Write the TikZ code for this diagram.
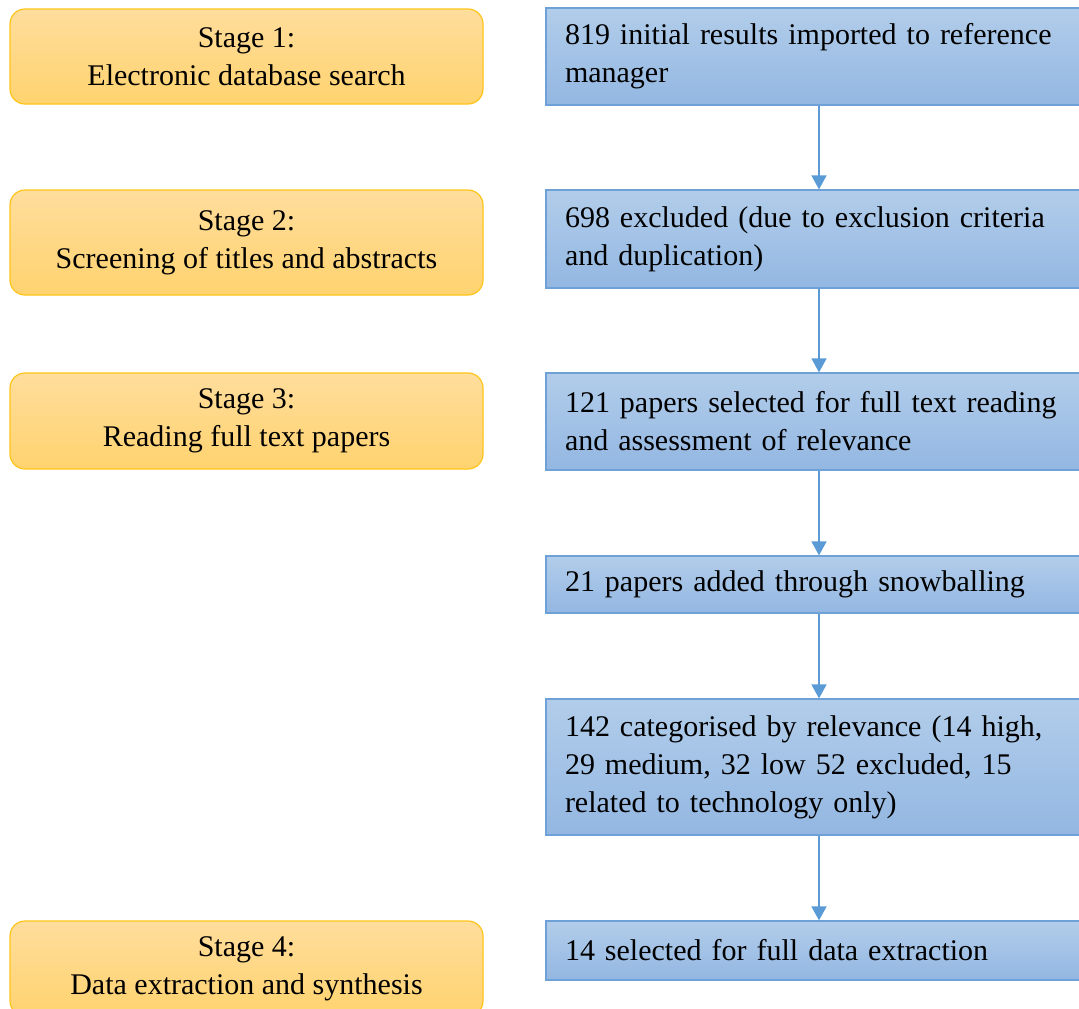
\documentclass[tikz,border=0pt]{standalone}
\usepackage{fontspec}
\setmainfont{Liberation Serif}
\usetikzlibrary{arrows.meta}
\definecolor{stageline}{HTML}{FFC419}
\definecolor{stagetop}{HTML}{FFDD9C}
\definecolor{stagebot}{HTML}{FFD36F}
\definecolor{stepline}{HTML}{6FA1D9}
\definecolor{steptop}{HTML}{B2CDEA}
\definecolor{stepbot}{HTML}{93B7E2}
\definecolor{flow}{HTML}{5B9BD5}
\begin{document}
\begin{tikzpicture}[x=1pt,y=-1pt,
  stagebox/.style={draw=stageline, line width=1.2pt, rounded corners=15pt,
    top color=stagetop, bottom color=stagebot, minimum width=473pt,
    align=center, inner sep=0pt, font=\fontsize{30}{38}\selectfont},
  stepbox/.style={draw=stepline, line width=1.2pt,
    top color=steptop, bottom color=stepbot, minimum width=546pt,
    text width=508pt, inner xsep=19pt, inner ysep=0pt, align=left,
    font=\fontsize{30}{38}\selectfont},
  flowarrow/.style={draw=flow, line width=1.6pt, -{Triangle[width=15pt,length=14pt]}}]
\useasboundingbox (0,0) rectangle (1079,1009);
\clip (0,0) rectangle (1079,1009);

% stages
\node[stagebox, minimum height=95pt]  (l1) at (246.5,56.5)  {Stage 1:\\Electronic database search};
\node[stagebox, minimum height=105pt] (l2) at (246.5,242.5) {Stage 2:\\Screening of titles and abstracts};
\node[stagebox, minimum height=96pt]  (l3) at (246.5,421)   {Stage 3:\\Reading full text papers};
\node[stagebox, minimum height=95pt]  (l4) at (246.5,968.5) {Stage 4:\\Data extraction and synthesis};

% steps
\node[stepbox, minimum height=97pt]  (r1) at (819,56.5)  {819 initial results imported to reference\\manager};
\node[stepbox, minimum height=98pt]  (r2) at (819,239)   {698 excluded (due to exclusion criteria\\and duplication)};
\node[stepbox, minimum height=97pt]  (r3) at (819,421.5) {121 papers selected for full text reading\\and assessment of relevance};
\node[stepbox, minimum height=57pt]  (r4) at (819,584.5) {21 papers added through snowballing};
\node[stepbox, minimum height=136pt] (r5) at (819,767)   {142 categorised by relevance (14 high,\\29 medium, 32 low 52 excluded, 15\\related to technology only)};
\node[stepbox, minimum height=59pt]  (r6) at (819,950.5) {14 selected for full data extraction};

% flow
\draw[flowarrow] (r1.south) -- (r2.north);
\draw[flowarrow] (r2.south) -- (r3.north);
\draw[flowarrow] (r3.south) -- (r4.north);
\draw[flowarrow] (r4.south) -- (r5.north);
\draw[flowarrow] (r5.south) -- (r6.north);
\end{tikzpicture}
\end{document}
